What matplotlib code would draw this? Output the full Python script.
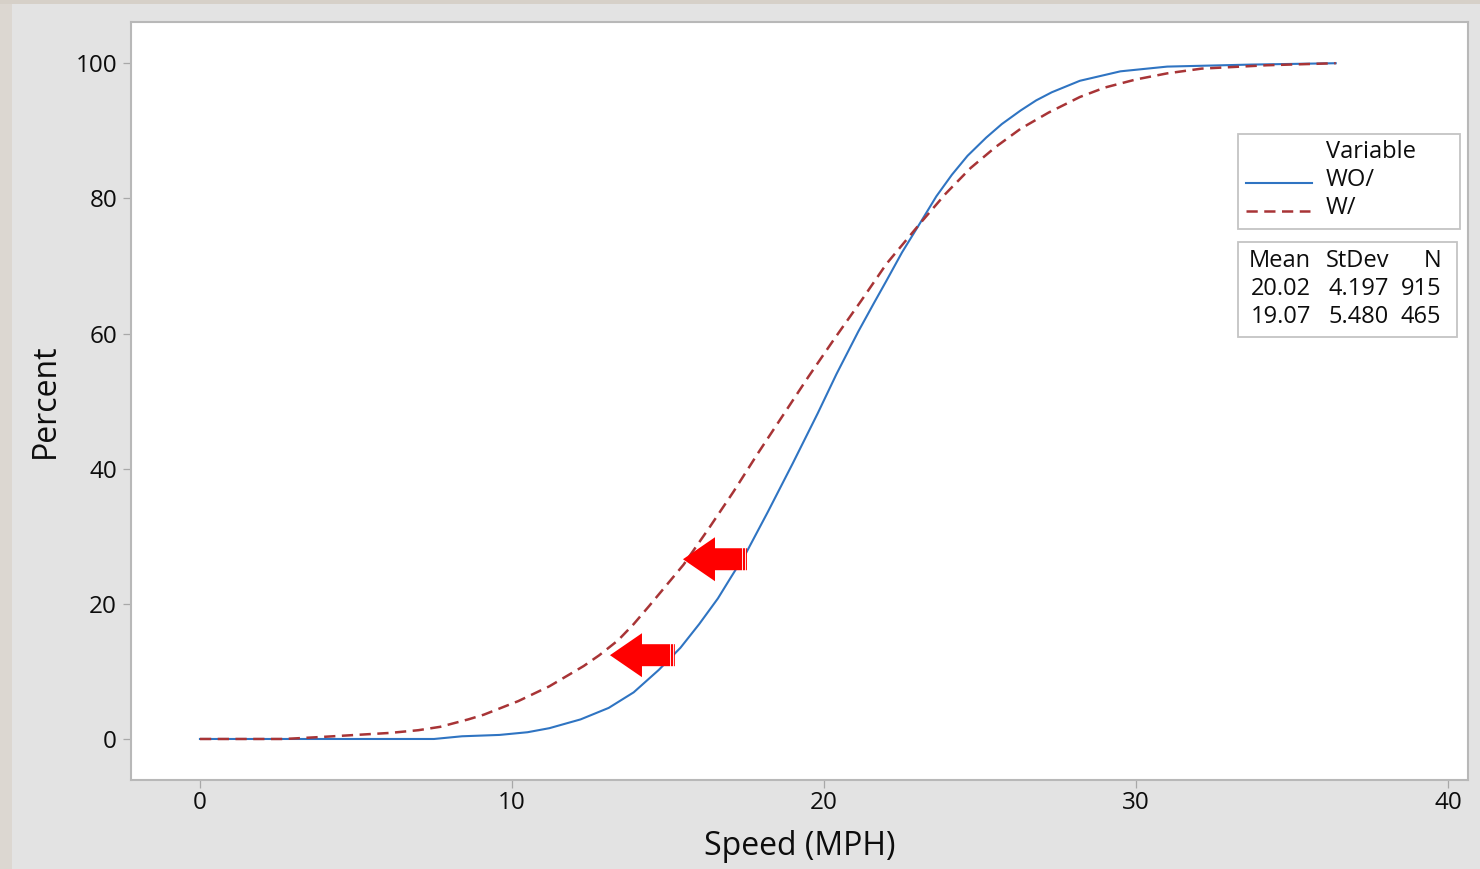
import matplotlib
matplotlib.use("Agg")
import matplotlib.pyplot as plt
from matplotlib.patches import Rectangle, Polygon
from matplotlib.lines import Line2D

plt.rcParams['font.family'] = ['Open Sans', 'DejaVu Sans']

# ---- data ----
wo_speed = [0, 7.5, 8.4, 9.6, 10.5, 11.2, 12.2, 13.1, 13.9, 14.7, 15.4, 16.0, 16.6, 17.0,
            17.5, 18.2, 19.0, 19.8, 20.4, 21.1, 21.6, 22.0, 22.5, 23.1, 23.6, 24.1, 24.6,
            25.2, 25.7, 26.3, 26.8, 27.3, 28.2, 29.5, 31.0, 33.7, 36.4]
wo_pct = [0, 0, 0.4, 0.6, 1.0, 1.6, 2.9, 4.6, 6.9, 10.2, 13.5, 17.0, 20.8, 23.8,
          27.5, 33.6, 40.8, 48.2, 54.0, 60.3, 64.5, 67.8, 72.0, 76.5, 80.3, 83.5, 86.3,
          89.0, 91.0, 93.0, 94.5, 95.7, 97.4, 98.8, 99.5, 99.8, 100]

w_speed = [0, 2.7, 3.9, 5.0, 6.1, 7.0, 7.7, 8.6, 9.1, 10.2, 11.2, 12.3, 12.8, 13.4, 13.9,
           14.4, 15.5, 16.3, 17.1, 17.9, 18.7, 19.5, 20.3, 21.2, 22.0, 23.1, 23.9, 24.7,
           25.5, 26.3, 27.2, 28.2, 29.0, 30.0, 31.0, 32.1, 34.2, 36.4]
w_pct = [0, 0, 0.3, 0.6, 0.9, 1.3, 1.8, 2.9, 3.6, 5.6, 7.8, 10.8, 12.4, 14.6, 17.0,
         19.7, 25.8, 31.1, 36.6, 42.4, 48.0, 53.6, 59.0, 64.9, 70.3, 76.4, 80.7, 84.5,
         87.6, 90.3, 92.7, 95.0, 96.4, 97.6, 98.5, 99.2, 99.7, 100]

series_names = ["WO/", "W/"]
stat_means = ["20.02", "19.07"]
stat_sds = ["4.197", "5.480"]
stat_ns = ["915", "465"]

x_ticks = [0, 10, 20, 30, 40]
y_ticks = [0, 20, 40, 60, 80, 100]

# annotation arrows: (tip x, tip y, tail x)
arrows = [(15.48, 26.6, 17.53), (13.14, 12.4, 15.22)]

# ---- figure ----
W, H = 1480, 869
fig = plt.figure(figsize=(W / 100, H / 100), dpi=100, facecolor='#e3e3e3')

def fx(x):
    return x / W

def fy(y):
    return 1 - y / H

# photo edges of the screenshot
fig.add_artist(Rectangle((0, 0), fx(12), 1, transform=fig.transFigure,
                         facecolor='#dcd7d1', edgecolor='none', zorder=-5))
fig.add_artist(Rectangle((0, fy(4)), 1, 4 / H, transform=fig.transFigure,
                         facecolor='#d6d0c8', edgecolor='none', zorder=-5))

ax = fig.add_axes([fx(131), fy(780), fx(1468) - fx(131), fy(22) - fy(780)])
ax.set_facecolor('white')

blue = '#2f74c2'
red = '#a83436'
ax.plot(wo_speed, wo_pct, color=blue, lw=1.5, zorder=3, solid_joinstyle='round')
ax.plot(w_speed, w_pct, color=red, lw=1.8, linestyle=(0, (4.5, 2.6)), zorder=3)

ax.set_xlim(-2.21, 40.64)
ax.set_ylim(-6.07, 106.1)
ax.set_xticks(x_ticks)
ax.set_yticks(y_ticks)
ax.tick_params(axis='both', direction='out', length=6, width=0.9, color='#a8a8a8',
               labelsize=17.5, labelcolor='#0d0d0d')
ax.tick_params(axis='y', pad=4)
ax.tick_params(axis='x', pad=2)
for s in ax.spines.values():
    s.set_color('#b8b8b8')
    s.set_linewidth(1.5)

ax.set_xlabel('Speed (MPH)', fontsize=23, color='#0d0d0d', labelpad=11)
ax.set_ylabel('Percent', fontsize=23, color='#0d0d0d', labelpad=10)

# arrows drawn in data units (head/body sizes from pixel scale)
xpu = (1447 - 200) / 40.0
ypu = (739 - 63) / 100.0
head_len = 32 / xpu
head_half = 22 / ypu
body_half = 11 / ypu
for tx, ty, tail in arrows:
    verts = [(tx, ty), (tx + head_len, ty + head_half), (tx + head_len, ty + body_half),
             (tail, ty + body_half), (tail, ty - body_half), (tx + head_len, ty - body_half),
             (tx + head_len, ty - head_half)]
    ax.add_patch(Polygon(verts, closed=True, facecolor='#ff0000', edgecolor='none', zorder=5))
    for off in (0.07, 0.17):
        ax.plot([tail - off, tail - off], [ty - body_half, ty + body_half],
                color='white', lw=0.7, zorder=6, alpha=0.9)

# ---- legend boxes ----
def box(x0, y0, x1, y1):
    fig.add_artist(Rectangle((fx(x0), fy(y1)), fx(x1) - fx(x0), fy(y0) - fy(y1),
                             transform=fig.transFigure, facecolor='white',
                             edgecolor='#c4c4c4', lw=1.3, zorder=10))

box(1238, 134, 1460, 229)
box(1238, 242, 1457, 337)

tkw = dict(fontsize=17, color='#0d0d0d', va='center', zorder=11)
fig.text(fx(1326), fy(152), 'Variable', ha='left', **tkw)
fig.text(fx(1326), fy(180), series_names[0], ha='left', **tkw)
fig.text(fx(1326), fy(208), series_names[1], ha='left', **tkw)
fig.add_artist(Line2D([fx(1246), fx(1312)], [fy(183), fy(183)], transform=fig.transFigure,
                      color=blue, lw=1.5, zorder=11))
fig.add_artist(Line2D([fx(1246), fx(1310)], [fy(211), fy(211)], transform=fig.transFigure,
                      color=red, lw=1.8, linestyle=(0, (4.5, 2.6)), zorder=11))

fig.text(fx(1311), fy(261), 'Mean', ha='right', **tkw)
fig.text(fx(1389), fy(261), 'StDev', ha='right', **tkw)
fig.text(fx(1441), fy(261), 'N', ha='right', **tkw)
for i in range(2):
    yy = 289 + 28 * i
    fig.text(fx(1311), fy(yy), stat_means[i], ha='right', **tkw)
    fig.text(fx(1389), fy(yy), stat_sds[i], ha='right', **tkw)
    fig.text(fx(1441), fy(yy), stat_ns[i], ha='right', **tkw)

fig.savefig('out.png', dpi=100, facecolor=fig.get_facecolor())
